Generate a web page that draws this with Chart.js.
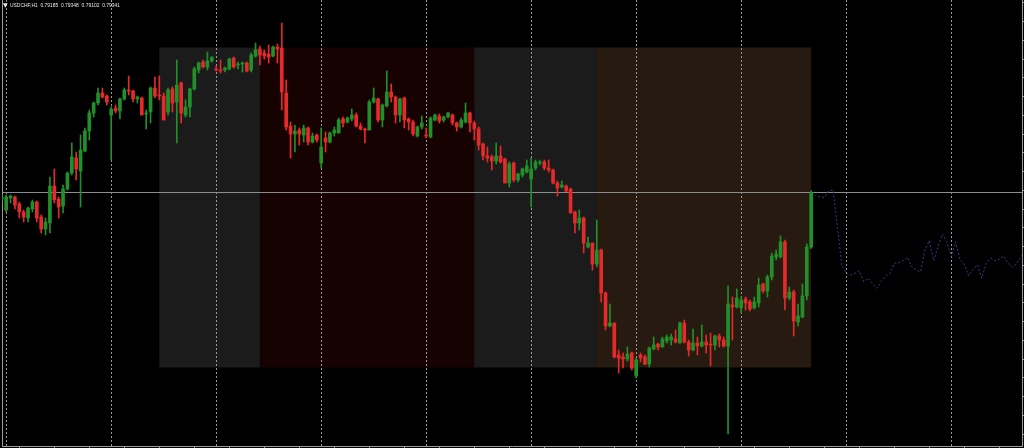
<!DOCTYPE html>
<html>
<head>
<meta charset="utf-8">
<title>USDCHF H1</title>
<script src="https://cdn.jsdelivr.net/npm/chart.js"></script>
<style>
  html, body { margin: 0; padding: 0; background: #000; }
  #wrap { width: 1024px; height: 448px; }
</style>
</head>
<body>
<div id="wrap"><canvas id="priceChart" width="1024" height="448"></canvas></div>
<script>
// USDCHF H1 bars, index 0 = leftmost bar on screen
const open = [
  0.79315,0.79271,0.79319,0.79323,0.79295,0.79263,0.79239,0.79275,0.79303,0.79243,
  0.79195,0.79219,0.79367,0.79315,0.79287,0.79355,0.79419,0.79479,0.79427,0.79507,
  0.79587,0.79659,0.79699,0.79739,0.79727,0.79651,0.79679,0.79667,0.79715,0.79751,
  0.79747,0.79715,0.79719,0.79655,0.79663,0.79759,0.79731,0.79727,0.79663,0.79755,
  0.79703,0.79779,0.79651,0.79683,0.79755,0.79831,0.79863,0.79843,0.79867,0.79835,
  0.79831,0.79831,0.79835,0.79879,0.79851,0.79855,0.79859,0.79831,0.79887,0.79915,
  0.79899,0.79895,0.79887,0.79923,0.79919,0.79739,0.79607,0.79575,0.79591,0.79571,
  0.79599,0.79543,0.79571,0.79459,0.79559,0.79543,0.79579,0.79579,0.79635,0.79623,
  0.79635,0.79651,0.79607,0.79595,0.79591,0.79703,0.79715,0.79631,0.79687,0.79743,
  0.79723,0.79651,0.79719,0.79635,0.79623,0.79567,0.79603,0.79571,0.79563,0.79631,
  0.79647,0.79631,0.79643,0.79651,0.79619,0.79603,0.79623,0.79659,0.79619,0.79595,
  0.79535,0.79487,0.79483,0.79467,0.79487,0.79475,0.79379,0.79459,0.79391,0.79411,
  0.79423,0.79395,0.79439,0.79459,0.79463,0.79439,0.79431,0.79379,0.79363,0.79367,
  0.79355,0.79263,0.79219,0.79239,0.79123,0.79139,0.79055,0.79111,0.78939,0.78807,
  0.78819,0.78691,0.78683,0.78675,0.78699,0.78607,0.78691,0.78683,0.78655,0.78715,
  0.78735,0.78723,0.78747,0.78751,0.78755,0.78739,0.78819,0.78743,0.78711,0.78739,
  0.78727,0.78743,0.78735,0.78731,0.78767,0.78751,0.78727,0.78891,0.78883,0.78879,
  0.78915,0.78903,0.78879,0.78899,0.78975,0.78947,0.79003,0.79083,0.79083,0.79143,
  0.78919,0.78943,0.78823,0.78843,0.78927,0.79123
];
const high = [
  0.79331,0.79331,0.79331,0.79327,0.79303,0.79271,0.79283,0.79311,0.79307,0.79251,
  0.79239,0.79403,0.79435,0.79323,0.79371,0.79423,0.79539,0.79503,0.79571,0.79599,
  0.79671,0.79703,0.79759,0.79759,0.79731,0.79683,0.79691,0.79719,0.79759,0.79807,
  0.79751,0.79727,0.79723,0.79671,0.79763,0.79803,0.79807,0.79739,0.79759,0.79763,
  0.79871,0.79783,0.79711,0.79759,0.79843,0.79863,0.79871,0.79903,0.79883,0.79847,
  0.79871,0.79843,0.79879,0.79883,0.79863,0.79863,0.79863,0.79899,0.79939,0.79927,
  0.79911,0.79931,0.79927,0.79935,0.80019,0.79791,0.79623,0.79611,0.79599,0.79611,
  0.79603,0.79579,0.79575,0.79599,0.79583,0.79583,0.79603,0.79639,0.79643,0.79643,
  0.79675,0.79659,0.79619,0.79599,0.79711,0.79759,0.79719,0.79695,0.79827,0.79775,
  0.79727,0.79719,0.79723,0.79639,0.79631,0.79607,0.79647,0.79599,0.79643,0.79655,
  0.79655,0.79647,0.79663,0.79655,0.79623,0.79639,0.79699,0.79663,0.79627,0.79603,
  0.79539,0.79523,0.79491,0.79539,0.79527,0.79479,0.79463,0.79463,0.79419,0.79439,
  0.79471,0.79479,0.79471,0.79471,0.79471,0.79471,0.79435,0.79387,0.79387,0.79371,
  0.79359,0.79267,0.79271,0.79243,0.79163,0.79139,0.79231,0.79115,0.78943,0.78895,
  0.78819,0.78711,0.78699,0.78723,0.78703,0.78679,0.78699,0.78691,0.78723,0.78763,
  0.78739,0.78763,0.78771,0.78775,0.78791,0.78823,0.78831,0.78751,0.78795,0.78763,
  0.78811,0.78771,0.78779,0.78771,0.78775,0.78763,0.78967,0.78923,0.78955,0.78923,
  0.78923,0.78911,0.78923,0.78999,0.78979,0.79011,0.79099,0.79111,0.79167,0.79151,
  0.78963,0.78951,0.78895,0.78975,0.79135,0.79348
];
const low = [
  0.79307,0.79263,0.79299,0.79275,0.79239,0.79223,0.79223,0.79263,0.79223,0.79179,
  0.79171,0.79179,0.79299,0.79239,0.79259,0.79351,0.79411,0.79391,0.79283,0.79503,
  0.79551,0.79643,0.79691,0.79719,0.79691,0.79471,0.79659,0.79635,0.79711,0.79731,
  0.79703,0.79699,0.79651,0.79595,0.79619,0.79719,0.79711,0.79631,0.79651,0.79663,
  0.79539,0.79619,0.79643,0.79643,0.79751,0.79819,0.79839,0.79831,0.79863,0.79827,
  0.79819,0.79823,0.79831,0.79839,0.79835,0.79823,0.79823,0.79823,0.79883,0.79851,
  0.79875,0.79859,0.79883,0.79859,0.79671,0.79591,0.79479,0.79503,0.79531,0.79543,
  0.79531,0.79539,0.79543,0.79439,0.79503,0.79539,0.79567,0.79579,0.79603,0.79619,
  0.79627,0.79603,0.79591,0.79539,0.79591,0.79699,0.79623,0.79603,0.79683,0.79703,
  0.79619,0.79623,0.79599,0.79591,0.79567,0.79563,0.79595,0.79559,0.79559,0.79627,
  0.79619,0.79623,0.79639,0.79611,0.79587,0.79599,0.79619,0.79583,0.79551,0.79511,
  0.79471,0.79463,0.79431,0.79455,0.79459,0.79379,0.79363,0.79383,0.79383,0.79403,
  0.79419,0.79283,0.79431,0.79451,0.79431,0.79423,0.79375,0.79327,0.79359,0.79343,
  0.79259,0.79179,0.79191,0.79099,0.79119,0.79031,0.79043,0.78903,0.78791,0.78803,
  0.78679,0.78619,0.78639,0.78667,0.78631,0.78599,0.78663,0.78651,0.78643,0.78711,
  0.78711,0.78723,0.78739,0.78731,0.78739,0.78739,0.78739,0.78687,0.78707,0.78691,
  0.78723,0.78699,0.78647,0.78711,0.78723,0.78723,0.78375,0.78751,0.78879,0.78859,
  0.78871,0.78867,0.78875,0.78883,0.78939,0.78923,0.78991,0.79071,0.79079,0.78871,
  0.78911,0.78767,0.78807,0.78839,0.78911,0.79117
];
const close = [
  0.79323,0.79323,0.79327,0.79291,0.79263,0.79243,0.79279,0.79303,0.79239,0.79195,
  0.79223,0.79367,0.79311,0.79283,0.79355,0.79419,0.79483,0.79435,0.79511,0.79587,
  0.79659,0.79699,0.79739,0.79723,0.79703,0.79675,0.79667,0.79715,0.79751,0.79747,
  0.79715,0.79723,0.79651,0.79659,0.79759,0.79727,0.79727,0.79631,0.79751,0.79699,
  0.79771,0.79659,0.79683,0.79755,0.79835,0.79859,0.79843,0.79867,0.79883,0.79831,
  0.79827,0.79839,0.79875,0.79843,0.79855,0.79859,0.79827,0.79891,0.79911,0.79891,
  0.79887,0.79883,0.79923,0.79915,0.79743,0.79603,0.79575,0.79587,0.79575,0.79599,
  0.79543,0.79567,0.79551,0.79523,0.79543,0.79579,0.79591,0.79631,0.79619,0.79639,
  0.79651,0.79607,0.79595,0.79591,0.79703,0.79719,0.79631,0.79691,0.79743,0.79723,
  0.79651,0.79715,0.79631,0.79623,0.79575,0.79603,0.79619,0.79567,0.79639,0.79651,
  0.79627,0.79643,0.79659,0.79619,0.79603,0.79631,0.79659,0.79619,0.79595,0.79531,
  0.79487,0.79479,0.79467,0.79487,0.79463,0.79379,0.79455,0.79391,0.79415,0.79435,
  0.79447,0.79435,0.79463,0.79463,0.79439,0.79431,0.79379,0.79359,0.79371,0.79347,
  0.79259,0.79219,0.79239,0.79139,0.79139,0.79055,0.79111,0.78939,0.78807,0.78819,
  0.78683,0.78679,0.78675,0.78695,0.78639,0.78671,0.78679,0.78655,0.78719,0.78731,
  0.78723,0.78755,0.78763,0.78763,0.78743,0.78819,0.78743,0.78711,0.78739,0.78727,
  0.78743,0.78731,0.78731,0.78767,0.78751,0.78727,0.78895,0.78883,0.78919,0.78911,
  0.78899,0.78875,0.78903,0.78971,0.78947,0.79003,0.79087,0.79095,0.79143,0.78919,
  0.78943,0.78827,0.78847,0.78927,0.79123,0.79341
];

// dotted projection, first point is the last close
const projStart = 185;
const projection = [
  0.79341,0.79329,0.79323,0.79321,0.79347,0.79351,0.79203,0.79051,0.79018,0.79011,
  0.79018,0.79028,0.78984,0.78998,0.78978,0.78958,0.78984,0.79007,0.79018,0.79058,
  0.79060,0.79068,0.79082,0.79044,0.79031,0.79024,0.79111,0.79148,0.79068,0.79124,
  0.79175,0.79144,0.79084,0.79144,0.79074,0.79055,0.79007,0.79034,0.79051,0.78998,
  0.79058,0.79078,0.79068,0.79074,0.79087,0.79058,0.79042,0.79058,0.79087,0.79103
];

// shaded session boxes (bar index from/to, price top/bottom)
const boxFrom = [36, 59, 108, 136];
const boxTo = [59, 108, 136, 185];
const boxHigh = 0.79921;
const boxLow = 0.78641;

// one day = 24 H1 bars, first day break on screen at bar 1
const dayFirstBar = 1;
const barsPerDay = 24;

const header = ['USDCHF,H1', '0.79185', '0.79348', '0.79102', '0.79341'];

// styles
const bull = '#22902a';
const bear = '#e42a2a';
const boxColors = ['#1b1b1b', '#170202', '#1b1b1b', '#271a10'];
const frame = '#9a9a9a';

const candleColor = c => close[c.dataIndex] >= open[c.dataIndex] ? bull : bear;
const bars = close.map((c, i) => i);

const backdrop = {
  id: 'backdrop',
  beforeDatasetsDraw(chart) {
    const { ctx, chartArea: a, scales: { x, y } } = chart;
    ctx.save();
    ctx.beginPath();
    ctx.rect(a.left, a.top, a.right - a.left, a.bottom - a.top);
    ctx.clip();

    const top = y.getPixelForValue(boxHigh);
    const bottom = y.getPixelForValue(boxLow);
    boxFrom.forEach((from, k) => {
      const l = x.getPixelForValue(from);
      const r = x.getPixelForValue(boxTo[k]);
      ctx.fillStyle = boxColors[k];
      ctx.fillRect(l, top, r - l, bottom - top);
    });

    // day separators
    ctx.strokeStyle = frame;
    ctx.lineWidth = 1;
    ctx.setLineDash([2, 2]);
    for (let b = dayFirstBar; b <= x.max; b += barsPerDay) {
      const px = Math.round(x.getPixelForValue(b)) + 0.5;
      ctx.beginPath();
      ctx.moveTo(px, a.top);
      ctx.lineTo(px, a.bottom);
      ctx.stroke();
    }

    // bid line
    ctx.setLineDash([]);
    ctx.strokeStyle = '#8c8c8c';
    const py = Math.floor(y.getPixelForValue(close[close.length - 1])) + 0.5;
    ctx.beginPath();
    ctx.moveTo(a.left, py);
    ctx.lineTo(a.right, py);
    ctx.stroke();
    ctx.restore();
  },
  afterDraw(chart) {
    const ctx = chart.ctx;
    ctx.save();
    ctx.fillStyle = '#e8e8e8';
    ctx.textBaseline = 'middle';
    ctx.font = '6px "DejaVu Sans"';
    ctx.fillText('\u25BC', 3, 5);
    ctx.font = '6px "Liberation Sans"';
    ctx.fillText(header.join('  '), 10, 5, 110);
    ctx.restore();
  }
};

new Chart(document.getElementById('priceChart'), {
  type: 'bar',
  data: {
    datasets: [
      {
        label: 'body',
        data: bars.map(i => ({ x: i, y: [open[i], close[i]] })),
        backgroundColor: candleColor,
        barThickness: 3,
        minBarLength: 1,
        grouped: false,
        borderWidth: 0
      },
      {
        label: 'wick',
        data: bars.map(i => ({ x: i, y: [low[i], high[i]] })),
        backgroundColor: candleColor,
        barThickness: 1,
        grouped: false,
        borderWidth: 0
      },
      {
        type: 'line',
        label: 'projection',
        data: projection.map((p, k) => ({ x: projStart + k, y: p })),
        borderColor: '#3a3a88',
        borderWidth: 1,
        borderDash: [2, 2],
        pointRadius: 0,
        tension: 0
      }
    ]
  },
  options: {
    responsive: false,
    animation: false,
    events: [],
    layout: { padding: { left: 2, top: 0, right: 0, bottom: 0 } },
    plugins: { legend: { display: false }, tooltip: { enabled: false } },
    scales: {
      x: {
        type: 'linear',
        min: 0.046,
        max: 233.19,
        offset: false,
        ticks: { display: false, stepSize: 8, includeBounds: false },
        grid: { drawOnChartArea: false, drawTicks: true, tickLength: 2, color: frame },
        border: { display: true, color: frame }
      },
      y: {
        position: 'right',
        min: 0.78327,
        max: 0.80111,
        ticks: { display: false, stepSize: 0.00075, includeBounds: false },
        grid: { drawOnChartArea: false, drawTicks: true, tickLength: 2, color: frame },
        border: { display: true, color: frame }
      },
      yl: {
        position: 'left',
        ticks: { display: false },
        grid: { drawOnChartArea: false, drawTicks: false },
        border: { display: true, color: frame }
      }
    }
  },
  plugins: [backdrop]
});
</script>
</body>
</html>
